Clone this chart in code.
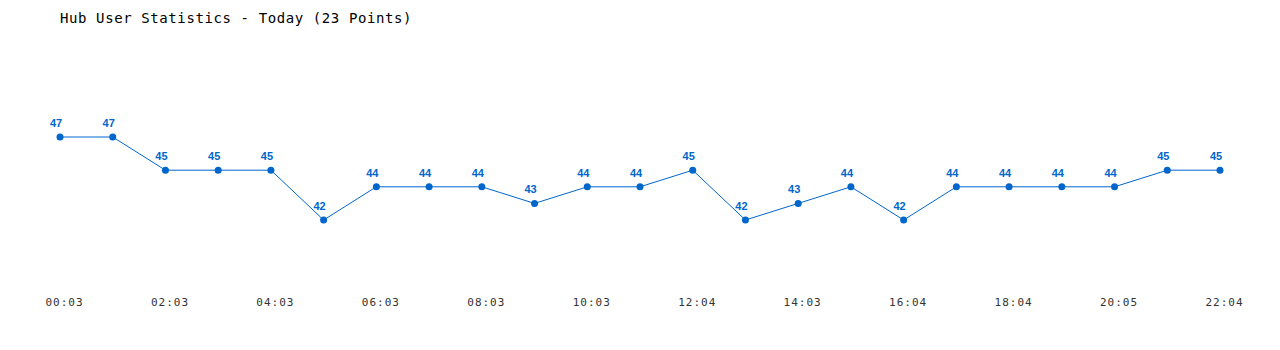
<!DOCTYPE html>
<html>
<head>
<meta charset="utf-8">
<script src="https://cdn.jsdelivr.net/npm/d3@7"></script>
<style>
  body { margin: 0; background: #fff; }
  .title { font-family: "DejaVu Sans Mono", monospace; font-size: 14px; letter-spacing: 0.6px; fill: #000; }
  .tick-label { font-family: "DejaVu Sans Mono", monospace; font-size: 11px; letter-spacing: 1px; fill: #333; }
  .value { font-family: "Liberation Sans", Arial, sans-serif; font-size: 11px; font-weight: bold; fill: #0066cc; }
</style>
</head>
<body>
<div id="chart"></div>
<script>
const WIDTH = 1280,
  HEIGHT = 350,
  COLOR = "#0066cc";

// one value per sample, oldest first
const times = [
  "00:03", "01:03", "02:03", "03:03", "04:03", "05:03", "06:03", "07:03",
  "08:03", "09:03", "10:03", "11:03", "12:04", "13:03", "14:03", "15:03",
  "16:04", "17:04", "18:04", "19:04", "20:05", "21:04", "22:04"
];
const users = [
  47, 47, 45, 45, 45, 42, 44, 44, 44, 43, 44, 44,
  45, 42, 43, 44, 42, 44, 44, 44, 44, 45, 45
];
const tick_labels = [
  "00:03", "02:03", "04:03", "06:03", "08:03", "10:03",
  "12:04", "14:03", "16:04", "18:04", "20:05", "22:04"
];

const points = times.map(function(t, i) {
  return { time: t, value: users[i] };
});

var svg = d3
  .select("#chart")
  .append("svg")
  .attr("width", WIDTH)
  .attr("height", HEIGHT);

svg
  .append("text")
  .attr("class", "title")
  .attr("x", 60)
  .attr("y", 23)
  .text("Hub User Statistics - Today (" + points.length + " Points)");

var x = d3
  .scalePoint()
  .domain(times)
  .range([60, 1220]);

var y = d3
  .scaleLinear()
  .domain([42, 47])
  .range([220, 137]);

var line = d3
  .line()
  .x(function(d) { return x(d.time); })
  .y(function(d) { return y(d.value); });

svg
  .append("path")
  .datum(points)
  .attr("d", line)
  .attr("fill", "none")
  .attr("stroke", COLOR)
  .attr("stroke-width", 1);

svg
  .selectAll(".dot")
  .data(points)
  .enter()
  .append("circle")
  .attr("class", "dot")
  .attr("cx", function(d) { return x(d.time); })
  .attr("cy", function(d) { return y(d.value); })
  .attr("r", 3.5)
  .attr("fill", COLOR);

svg
  .selectAll(".value")
  .data(points)
  .enter()
  .append("text")
  .attr("class", "value")
  .attr("x", function(d) { return x(d.time) - 4; })
  .attr("y", function(d) { return y(d.value) - 10; })
  .attr("text-anchor", "middle")
  .text(function(d) { return d.value; });

// x axis: labels only, every other sample
var axis = d3
  .axisBottom(x)
  .tickValues(tick_labels)
  .tickSize(0)
  .tickPadding(0);

var axis_group = svg
  .append("g")
  .attr("transform", "translate(4,298)")
  .call(axis);

axis_group.select(".domain").remove();
axis_group
  .selectAll("text")
  .attr("class", "tick-label")
  .attr("font-family", null)
  .attr("font-size", null)
  .attr("fill", null);
</script>
</body>
</html>
